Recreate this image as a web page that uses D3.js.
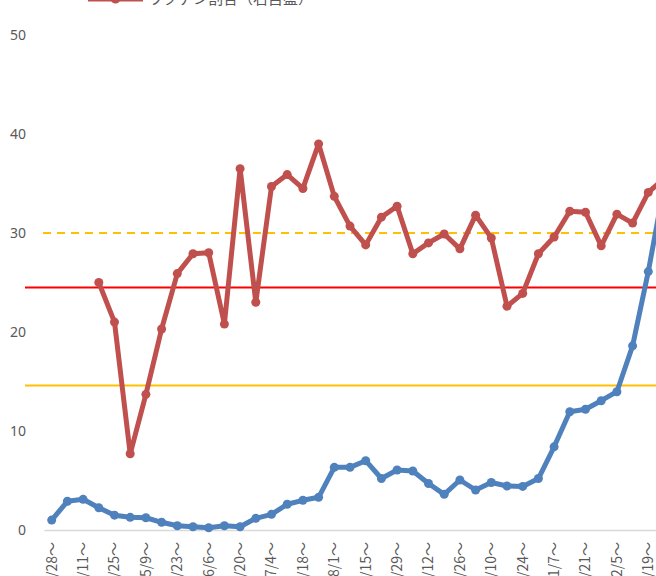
<!DOCTYPE html>
<html>
<head>
<meta charset="utf-8">
<script src="https://cdn.jsdelivr.net/npm/d3@7"></script>
<style>
  body { margin: 0; background: #fff; }
  svg { display: block; overflow: hidden; }
</style>
</head>
<body>
<script>
// weekly categories (start of week)
var weeks = ['3/28～','4/4～','4/11～','4/18～','4/25～','5/2～','5/9～','5/16～','5/23～','5/30～',
             '6/6～','6/13～','6/20～','6/27～','7/4～','7/11～','7/18～','7/25～','8/1～','8/8～',
             '8/15～','8/22～','8/29～','9/5～','9/12～','9/19～','9/26～','10/3～','10/10～','10/17～',
             '10/24～','10/31～','11/7～','11/14～','11/21～','11/28～','12/5～','12/12～','12/19～','12/26～'];

// left axis series
var blueValues = [1.0, 2.9, 3.1, 2.25, 1.5, 1.28, 1.24, 0.78, 0.43, 0.33,
                  0.23, 0.43, 0.33, 1.18, 1.58, 2.6, 3.0, 3.3, 6.33, 6.33,
                  7.0, 5.2, 6.06, 5.96, 4.7, 3.6, 5.05, 4.04, 4.8, 4.44,
                  4.4, 5.2, 8.4, 11.95, 12.2, 13.06, 13.97, 18.6, 26.1, 34.7];

// right axis series (割合)
var redValues = [null, null, null, 25.0, 21.0, 7.7, 13.7, 20.3, 25.9, 27.9,
                 28.0, 20.8, 36.5, 23.0, 34.7, 35.9, 34.5, 39.0, 33.7, 30.7,
                 28.8, 31.6, 32.7, 27.9, 29.0, 29.9, 28.4, 31.8, 29.5, 22.6,
                 23.9, 27.9, 29.6, 32.2, 32.1, 28.7, 31.9, 31.0, 34.1, 35.5];

var redLabel = 'ワクチン割合（右目盛）';

var yTicks = [0, 10, 20, 30, 40, 50];
var refDashed = [30];
var refRed = [24.5];
var refYellow = [14.6];

var width = 656, height = 576;
var svg = d3.select('body').append('svg').attr('width', width).attr('height', height);

var step = 15.7;
var x = d3.scaleBand().domain(weeks).range([51.7 - step / 2, 51.7 - step / 2 + step * weeks.length]);
var y = d3.scaleLinear().domain([0, 50]).range([530, 35]);
var yRight = d3.scaleLinear().domain([0, 50]).range([530, 35]);

var cx = function(i) { return x(weeks[i]) + x.bandwidth() / 2; };

// y axis labels
var yAxis = svg.append('g').attr('transform', 'translate(30,0)')
  .call(d3.axisLeft(y).tickValues(yTicks).tickSize(0).tickPadding(4));
yAxis.select('.domain').remove();
yAxis.selectAll('text')
  .attr('font-family', 'Noto Sans, sans-serif').attr('font-size', 14).attr('fill', '#595959');

// x axis
var xAxis = svg.append('g').attr('transform', 'translate(0,530)')
  .call(d3.axisBottom(x).tickValues(weeks.filter(function(d, i) { return i % 2 == 0; })).tickSize(0).tickSizeOuter(0));
xAxis.select('.domain').attr('stroke', '#d9d9d9').attr('stroke-width', 1.5);
xAxis.selectAll('text')
  .attr('font-family', 'Noto Sans CJK JP, sans-serif').attr('font-size', 14).attr('fill', '#595959')
  .attr('text-anchor', 'end')
  .attr('transform', 'rotate(-90)')
  .attr('x', -12).attr('y', 0).attr('dy', '0.35em');

// reference lines
svg.selectAll('.ref-dash').data(refDashed).enter().append('line')
  .attr('x1', 43).attr('x2', width).attr('y1', y).attr('y2', y)
  .attr('stroke', '#ffc000').attr('stroke-width', 2).attr('stroke-dasharray', '8,6');
svg.selectAll('.ref-red').data(refRed).enter().append('line')
  .attr('x1', 25).attr('x2', width).attr('y1', y).attr('y2', y)
  .attr('stroke', '#ff0000').attr('stroke-width', 2);
svg.selectAll('.ref-yellow').data(refYellow).enter().append('line')
  .attr('x1', 25).attr('x2', width).attr('y1', y).attr('y2', y)
  .attr('stroke', '#ffc000').attr('stroke-width', 2);

function drawSeries(values, scale, color) {
  var line = d3.line()
    .defined(function(d) { return d != null; })
    .x(function(d, i) { return cx(i); })
    .y(function(d) { return scale(d); });
  svg.append('path').datum(values)
    .attr('d', line).attr('fill', 'none')
    .attr('stroke', color).attr('stroke-width', 5).attr('stroke-linejoin', 'round');
  svg.append('g').selectAll('circle')
    .data(values.map(function(d, i) { return {v: d, i: i}; }).filter(function(d) { return d.v != null; }))
    .enter().append('circle')
    .attr('cx', function(d) { return cx(d.i); })
    .attr('cy', function(d) { return scale(d.v); })
    .attr('r', 4.5).attr('fill', color);
}

drawSeries(blueValues, y, '#4f81bd');
drawSeries(redValues, yRight, '#c0504d');

// legend (mostly cut off at top)
var lg = svg.append('g').attr('transform', 'translate(0,-1)');
lg.append('line').attr('x1', 88).attr('x2', 143).attr('y1', 0).attr('y2', 0)
  .attr('stroke', '#c0504d').attr('stroke-width', 5);
lg.append('circle').attr('cx', 115.5).attr('cy', 0).attr('r', 4.5).attr('fill', '#c0504d');
lg.append('text').attr('x', 148).attr('y', 5)
  .attr('font-family', 'Noto Sans CJK JP, sans-serif').attr('font-size', 15).attr('fill', '#595959')
  .text(redLabel);
</script>
</body>
</html>
